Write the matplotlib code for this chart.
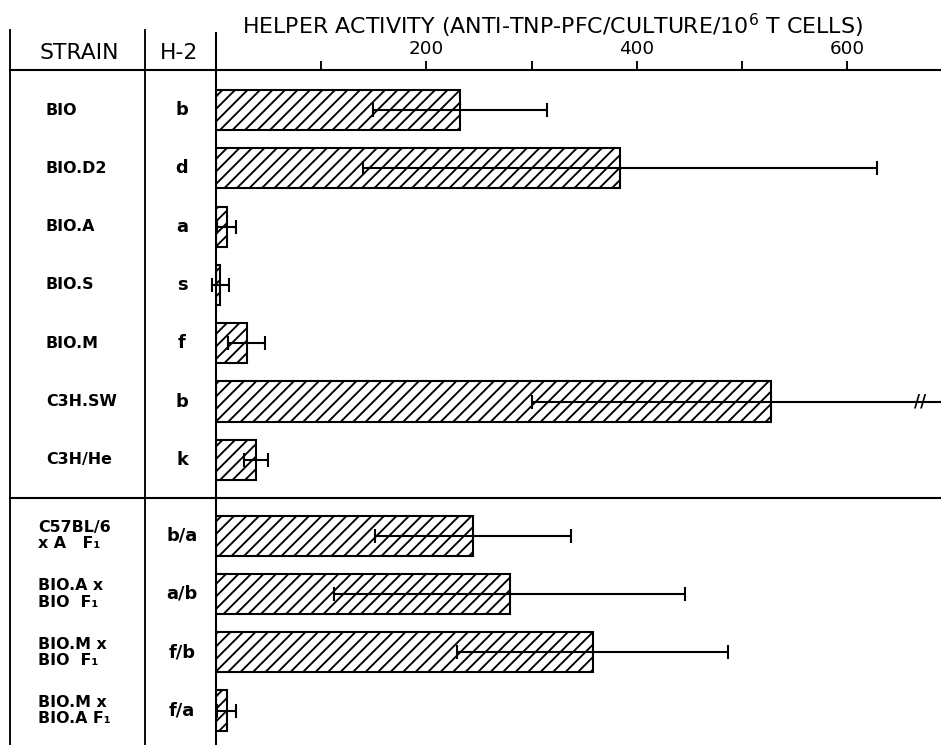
import numpy as np
import matplotlib
matplotlib.use("Agg")
import matplotlib.pyplot as plt
from matplotlib.transforms import blended_transform_factory

# data
strains = ["BIO", "BIO.D2", "BIO.A", "BIO.S", "BIO.M", "C3H.SW", "C3H/He",
           "C57BL/6\nx A   F\u2081", "BIO.A x\nBIO  F\u2081", "BIO.M x\nBIO  F\u2081", "BIO.M x\nBIO.A F\u2081"]
h2 = ["b", "d", "a", "s", "f", "b", "k", "b/a", "a/b", "f/b", "f/a"]
activity = [232, 384, 10, 4, 29, 527, 38, 244, 279, 358, 10]
errors = [83, 244, 9, 8, 18, 227, 11, 93, 167, 129, 9]
row_pos = [0, 1, 2, 3, 4, 5, 6, 7.3, 8.3, 9.3, 10.3]
group_divider = 6.65

W, H = 941, 745
fig = plt.figure(figsize=(W / 150, H / 150), dpi=150)
plt.rcParams['hatch.linewidth'] = 0.9

# background axes in pixel units for the table frame
bg = fig.add_axes([0, 0, 1, 1])
bg.set_xlim(0, W)
bg.set_ylim(H, 0)
bg.axis('off')

x0, head_y = 216, 70
ax = fig.add_axes([x0 / W, 0, 1 - x0 / W, 1 - head_y / H])
ax.set_xlim(0, 689)
ax.set_ylim(10.89, -0.686)

ax.barh(row_pos, activity, height=0.69, left=0, color='white', edgecolor='black',
        linewidth=1.0, hatch='////', zorder=2)
eb = ax.errorbar(activity, row_pos, xerr=errors, fmt='none', ecolor='black',
                 elinewidth=1.0, capsize=3.5, capthick=1.0, zorder=3)
for child in eb.get_children():
    child.set_clip_on(False)

# break mark on the clipped error bar
i_big = activity.index(527)
ax.text(669, row_pos[i_big], "//", ha='center', va='center', fontsize=8, fontweight='bold')

for s in ['right', 'bottom']:
    ax.spines[s].set_visible(False)
for s in ['left', 'top']:
    ax.spines[s].set_linewidth(1.0)
ax.xaxis.tick_top()
ax.set_xticks([100, 200, 300, 400, 500, 600])
ax.set_xticklabels(['', '200', '', '400', '', '600'], fontsize=8.8)
ax.tick_params(axis='x', direction='out', length=4.5, width=0.9, pad=1.5)
ax.set_yticks([])

# table frame
bg.plot([10, 10], [30, H], color='black', lw=0.9)
bg.plot([145, 145], [30, H], color='black', lw=0.9)
bg.plot([x0, x0], [33, head_y], color='black', lw=1.0)
bg.plot([10, x0], [head_y, head_y], color='black', lw=1.0)

tr = blended_transform_factory(bg.transData, ax.transData)
fig.add_artist(plt.Line2D([10, W], [group_divider, group_divider], transform=tr,
                          color='black', lw=1.0))

bg.text(79, 53, "STRAIN", ha='center', va='center', fontsize=10.5)
bg.text(179, 53, "H-2", ha='center', va='center', fontsize=10.5)
bg.text(552, 26, "HELPER ACTIVITY (ANTI-TNP-PFC/CULTURE/10$^{6}$ T CELLS)",
        ha='center', va='center', fontsize=10.6)

for name, g, y in zip(strains, h2, row_pos):
    xl = 38 if "\n" in name else 46
    fig.text(xl, y, name, transform=tr, ha='left', va='center', fontsize=7.6,
             fontweight='bold', linespacing=1.1)
    fig.text(182, y, g, transform=tr, ha='center', va='center', fontsize=8.5,
             fontweight='bold')

fig.savefig("out.png", dpi=150)
